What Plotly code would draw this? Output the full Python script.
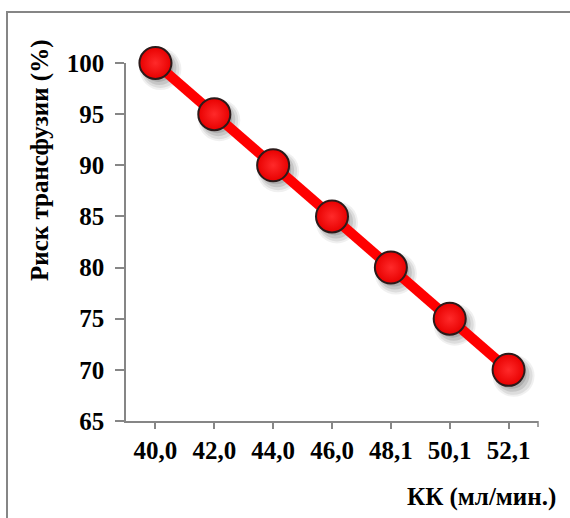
import plotly.graph_objects as go

# Creatinine clearance categories and corresponding transfusion risk
clearance = ["40,0", "42,0", "44,0", "46,0", "48,1", "50,1", "52,1"]
risk = [100, 95, 90, 85, 80, 75, 70]
y_ticks = [65, 70, 75, 80, 85, 90, 95, 100]

W, H = 570, 518
L, R, T, B = 126, 32, 63, 97
pw, ph = W - L - R, H - T - B
X_RANGE = [-0.5, 6.5]
Y_RANGE = [65, 100]
x_span = X_RANGE[1] - X_RANGE[0]
y_span = Y_RANGE[1] - Y_RANGE[0]

axis_grey = "#868686"
font_main = "Liberation Serif, Times New Roman, serif"
FS = 25

fig = go.Figure()

# base axes carry the tick labels; an invisible copy of the series defines them
fig.add_trace(go.Scatter(
    x=clearance, y=risk, mode="markers", marker=dict(opacity=0),
    hoverinfo="skip", showlegend=False,
))

# soft drop shadow under the markers: overlaid hidden axes whose ranges are
# nudged so the same points land a few pixels lower-right
shadow_layers = [(5, 6, 0.06, 42), (5, 6, 0.08, 38), (4, 5, 0.10, 34), (3, 4, 0.12, 30)]
k = 1
for dx, dy, op, sz in shadow_layers:
    k += 1
    fig.add_trace(go.Scatter(
        x=clearance, y=risk, mode="markers",
        marker=dict(size=sz, color=f"rgba(0,0,0,{op})", line=dict(width=0)),
        xaxis=f"x{k}", yaxis=f"y{k}", hoverinfo="skip", showlegend=False,
        cliponaxis=False,
    ))
    sx = dx / pw * x_span
    sy = dy / ph * y_span
    fig.layout[f"xaxis{k}"] = dict(
        range=[X_RANGE[0] - sx, X_RANGE[1] - sx], type="category",
        visible=False, overlaying="x", anchor=f"y{k}",
    )
    fig.layout[f"yaxis{k}"] = dict(
        range=[Y_RANGE[0] + sy, Y_RANGE[1] + sy], visible=False,
        overlaying="y", anchor=f"x{k}",
    )

# main series, on the topmost overlaid axes so it sits above the shadow
k += 1
fig.add_trace(go.Scatter(
    x=clearance, y=risk, mode="lines+markers",
    line=dict(color="#ff0000", width=10),
    marker=dict(size=32, color="#e80000",
                gradient=dict(type="radial", color="#ff2a2a"),
                line=dict(color="#2b1a1a", width=2)),
    xaxis=f"x{k}", yaxis=f"y{k}",
    cliponaxis=False, showlegend=False,
))
fig.layout[f"xaxis{k}"] = dict(range=X_RANGE, type="category", visible=False,
                               overlaying="x", anchor=f"y{k}")
fig.layout[f"yaxis{k}"] = dict(range=Y_RANGE, visible=False,
                               overlaying="y", anchor=f"x{k}")

fig.update_layout(
    width=W, height=H,
    margin=dict(l=L, r=R, t=T, b=B),
    paper_bgcolor="white", plot_bgcolor="white",
    font=dict(family=font_main, size=FS, color="black"),
    xaxis=dict(
        type="category", range=X_RANGE, domain=[0, 1],
        showgrid=False, zeroline=False,
        showline=True, linecolor=axis_grey, linewidth=1.5,
        ticks="outside", ticklen=6, tickcolor=axis_grey, tickwidth=1.5,
        tickfont=dict(family=font_main, size=FS, color="black", weight="bold"),
        tickson="labels", ticklabelstandoff=0,
    ),
    yaxis=dict(
        range=Y_RANGE, domain=[0, 1], tickvals=y_ticks,
        showgrid=False, zeroline=False,
        showline=True, linecolor=axis_grey, linewidth=1.5,
        ticks="outside", ticklen=9, tickcolor=axis_grey, tickwidth=1.5,
        tickfont=dict(family=font_main, size=FS, color="black", weight="bold"),
        ticklabelstandoff=6,
    ),
)

# right end tick on the category axis
fig.add_shape(type="line", xref="paper", yref="paper",
              x0=1, x1=1, y0=0, y1=-6 / ph,
              line=dict(color=axis_grey, width=1.5))
# x axis line extends left past the y axis
fig.add_shape(type="line", xref="paper", yref="paper",
              x0=-9 / pw, x1=0, y0=0, y1=0,
              line=dict(color=axis_grey, width=1.5))

# outer chart frame
fig.add_shape(type="rect", xref="paper", yref="paper",
              x0=(7 - L) / pw, x1=(W + 10 - L) / pw,
              y0=(H - B - (H + 10)) / ph, y1=(H - B - 12) / ph,
              line=dict(color=axis_grey, width=2), fillcolor="rgba(0,0,0,0)",
              layer="below")

# axis titles
fig.add_annotation(text="<b>Риск трансфузии (%)</b>", textangle=-90,
                   xref="paper", yref="paper",
                   x=(40 - L) / pw, y=(H - B - 160) / ph,
                   xanchor="center", yanchor="middle", showarrow=False,
                   font=dict(family=font_main, size=FS, color="black"))
fig.add_annotation(text="<b>КК (мл/мин.)</b>",
                   xref="paper", yref="paper",
                   x=(558 - L) / pw, y=(H - B - 497) / ph,
                   xanchor="right", yanchor="middle", showarrow=False,
                   font=dict(family=font_main, size=FS, color="black"))

fig.write_html("out.html")
